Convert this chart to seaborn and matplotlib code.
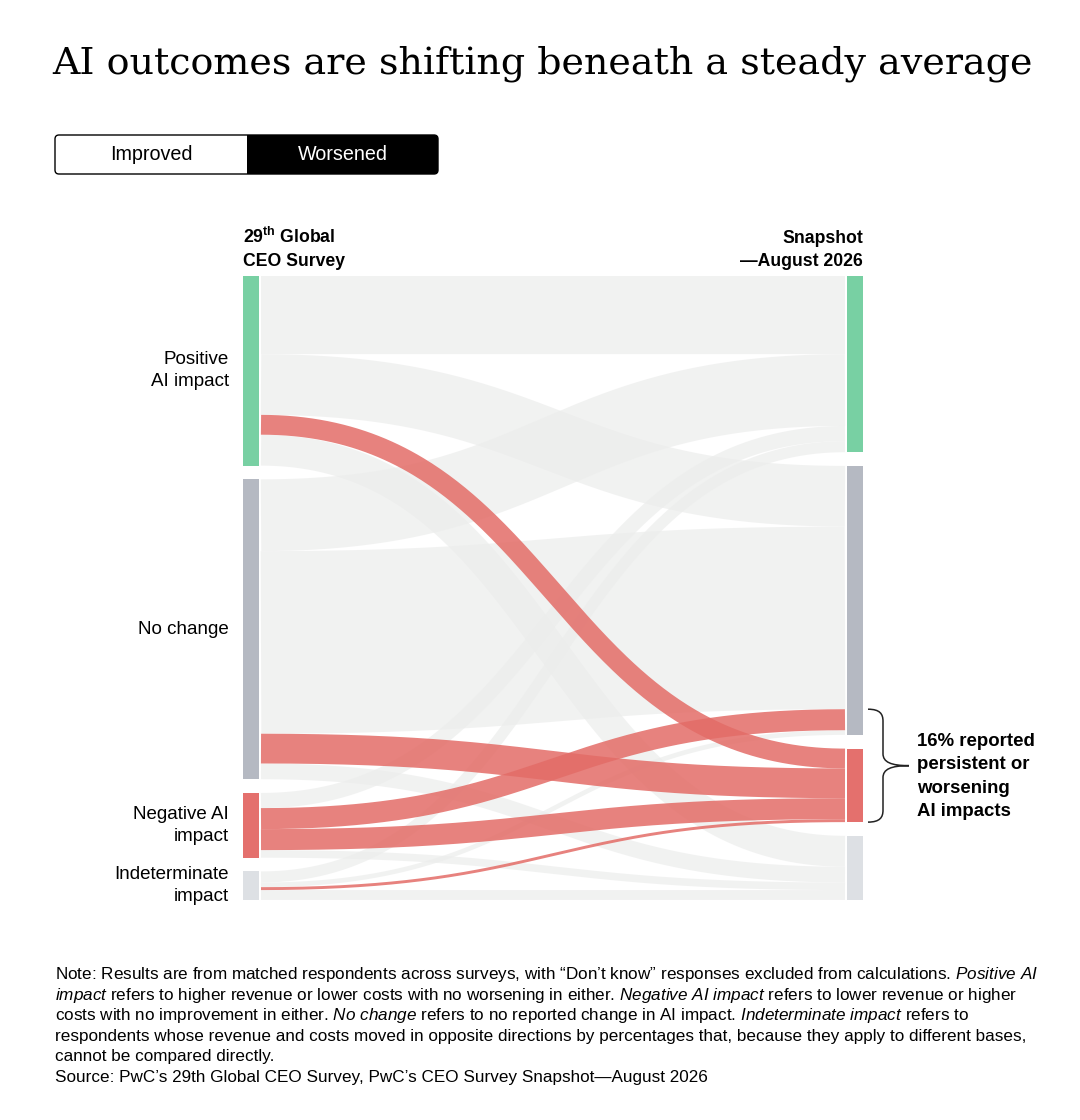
import numpy as np
import matplotlib
matplotlib.use("Agg")
import matplotlib.pyplot as plt
from matplotlib.patches import Rectangle, FancyBboxPatch, PathPatch
from matplotlib.path import Path
import seaborn as sns

# node labels (same four states in both surveys)
stages = ["Positive\nAI impact", "No change", "Negative AI\nimpact", "Indeterminate\nimpact"]
node_colors = ["#78D0A3", "#B5B9C2", "#E4706D", "#DDE0E4"]

# share of matched respondents (%), 29th survey state -> Snapshot Aug 2026 state
# order of targets: positive, no change, negative, indeterminate
from_positive = [13.4, 10.4, 3.4, 5.3]
from_no_change = [12.3, 31.3, 5.1, 2.7]
from_negative = [2.6, 3.6, 3.6, 1.3]
from_indeterminate = [1.9, 0.8, 0.5, 1.7]

# flows highlighted in the "Worsened" view
worsened = [(0, 2), (1, 2), (2, 1), (2, 2), (3, 2)]

title = "AI outcomes are shifting beneath a steady average"
note_lines = [
    "Note: Results are from matched respondents across surveys, with \u201cDon\u2019t know\u201d responses excluded from calculations. $\\mathit{Positive\\ AI}$",
    "$\\mathit{impact}$ refers to higher revenue or lower costs with no worsening in either. $\\mathit{Negative\\ AI\\ impact}$ refers to lower revenue or higher",
    "costs with no improvement in either. $\\mathit{No\\ change}$ refers to no reported change in AI impact. $\\mathit{Indeterminate\\ impact}$ refers to",
    "respondents whose revenue and costs moved in opposite directions by percentages that, because they apply to different bases,",
    "cannot be compared directly.",
    "Source: PwC\u2019s 29th Global CEO Survey, PwC\u2019s CEO Survey Snapshot\u2014August 2026",
]

sns.set_theme(style="white")
plt.rcParams["font.family"] = ["Liberation Sans", "DejaVu Sans"]
plt.rcParams["text.color"] = "black"
plt.rcParams["mathtext.fontset"] = "custom"
plt.rcParams["mathtext.rm"] = "Liberation Sans"
plt.rcParams["mathtext.it"] = "Liberation Sans:italic"
plt.rcParams["mathtext.bf"] = "Liberation Sans:bold"

flows = np.array([from_positive, from_no_change, from_negative, from_indeterminate])
n = len(stages)
gap = 2.35
left_tot = flows.sum(axis=1)
right_tot = flows.sum(axis=0)
left_top = np.concatenate([[0], np.cumsum(left_tot[:-1] + gap)])
right_top = np.concatenate([[0], np.cumsum(right_tot[:-1] + gap)])
ymax = max(left_top[-1] + left_tot[-1], right_top[-1] + right_tot[-1])

W, H = 1080, 1120
fig = plt.figure(figsize=(W / 100, H / 100), dpi=100)

# overlay in pixel units for titles, toggle and notes
bg = fig.add_axes([0, 0, 1, 1])
bg.set_xlim(0, W)
bg.set_ylim(H, 0)
bg.axis("off")

# sankey area
ax_px = (243, 276, 620, 624)  # left, top, width, height
ax = fig.add_axes([ax_px[0] / W, 1 - (ax_px[1] + ax_px[3]) / H, ax_px[2] / W, ax_px[3] / H])
ax.set_xlim(0, 1)
ax.set_ylim(ymax, 0)
ax.axis("off")

px_x = 1 / ax_px[2]
px_y = ymax / ax_px[3]
node_w = 16 * px_x
link_gap = 2 * px_x
pt_per_unit = ax_px[3] / ymax * 72 / 100

# nodes
for i in range(n):
    ax.add_patch(Rectangle((0, left_top[i]), node_w, left_tot[i], fc=node_colors[i], ec="none", zorder=3))
    ax.add_patch(Rectangle((1 - node_w, right_top[i]), node_w, right_tot[i], fc=node_colors[i], ec="none", zorder=3))
    ax.text(-14 * px_x, left_top[i] + left_tot[i] / 2, stages[i], ha="right", va="center",
            fontsize=13.5, linespacing=1.36)

# links
x0, x1 = node_w + link_gap, 1 - node_w - link_gap
xm = (x0 + x1) / 2
u = np.linspace(0, 1, 200)


def bezier(ya, yb):
    xs = (1 - u) ** 3 * x0 + 3 * (1 - u) ** 2 * u * xm + 3 * (1 - u) * u ** 2 * xm + u ** 3 * x1
    ys = (1 - u) ** 3 * ya + 3 * (1 - u) ** 2 * u * ya + 3 * (1 - u) * u ** 2 * yb + u ** 3 * yb
    return xs, ys


for highlight in (False, True):
    for i in range(n):
        for j in range(n):
            v = flows[i, j]
            if ((i, j) in worsened) != highlight:
                continue
            ya = left_top[i] + flows[i, :j].sum() + v / 2
            yb = right_top[j] + flows[:i, j].sum() + v / 2
            xs, ys = bezier(ya, yb)
            if highlight:
                ax.plot(xs, ys, color="#E36C67", alpha=0.85, lw=v * pt_per_unit,
                        solid_capstyle="butt", zorder=2)
            else:
                ax.plot(xs, ys, color="#ECEDEC", alpha=0.7, lw=v * pt_per_unit,
                        solid_capstyle="butt", zorder=1)

# bracket for persistent / worsening share
b_top = right_top[1] + flows[:2, 1].sum()
b_bot = right_top[2] + right_tot[2]
b_mid = (b_top + b_bot) / 2
xa, xb, xt = 1 + 5 * px_x, 1 + 20 * px_x, 1 + 46 * px_x
r = 12 * px_y
verts = [
    (xa, b_top), (xa + (xb - xa) * 0.8, b_top), (xb, b_top + r * 0.4), (xb, b_top + r),
    (xb, b_mid - r),
    (xb, b_mid - r * 0.3), (xb + (xt - xb) * 0.3, b_mid), (xt, b_mid),
    (xb + (xt - xb) * 0.3, b_mid), (xb, b_mid + r * 0.3), (xb, b_mid + r),
    (xb, b_bot - r),
    (xb, b_bot - r * 0.4), (xa + (xb - xa) * 0.8, b_bot), (xa, b_bot),
]
codes = [Path.MOVETO, Path.CURVE4, Path.CURVE4, Path.CURVE4, Path.LINETO,
         Path.CURVE4, Path.CURVE4, Path.CURVE4, Path.CURVE4, Path.CURVE4, Path.CURVE4,
         Path.LINETO, Path.CURVE4, Path.CURVE4, Path.CURVE4]
ax.add_patch(PathPatch(Path(verts, codes), fc="none", ec="#222222", lw=1.1, clip_on=False))
share = flows[2, 1] + right_tot[2]
ax.text(1 + 54 * px_x, b_mid + 11 * px_y,
        f"{share:.0f}% reported\npersistent or\nworsening\nAI impacts",
        ha="left", va="center", fontsize=13.4, fontweight="bold", linespacing=1.5, clip_on=False)

# column headers
bg.text(243, 243, r"29$^{\mathbf{th}}$ Global", fontsize=12.7, fontweight="bold", va="baseline")
bg.text(243, 266, "CEO Survey", fontsize=12.7, fontweight="bold", va="baseline")
bg.text(863, 243, "Snapshot", fontsize=12.7, fontweight="bold", va="baseline", ha="right")
bg.text(863, 266, "\u2014August 2026", fontsize=12.7, fontweight="bold", va="baseline", ha="right")

# title
bg.text(52, 74, title, fontsize=27.4, va="baseline", family=["DejaVu Serif", "Liberation Serif"])

# toggle
box = FancyBboxPatch((55, 135), 383, 39, boxstyle="round,pad=0,rounding_size=4",
                     fc="white", ec="black", lw=1.0)
bg.add_patch(box)
sel = Rectangle((247, 135), 191, 39, fc="black", ec="none")
bg.add_patch(sel)
sel.set_clip_path(box)
bg.text(151, 155, "Improved", ha="center", va="center", fontsize=14.2)
bg.text(343, 155, "Worsened", ha="center", va="center", fontsize=14.2, color="white")

# notes
for k, line in enumerate(note_lines):
    bg.text(55, 979 + k * 20.6, line, fontsize=12.3, va="baseline")

fig.savefig("out.png", dpi=100)
